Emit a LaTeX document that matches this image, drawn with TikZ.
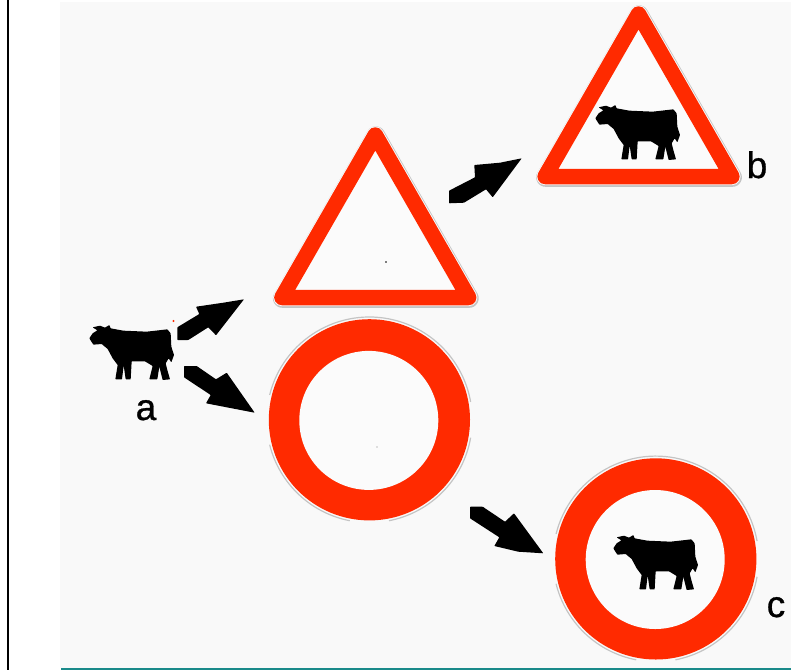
\documentclass[tikz,border=0pt]{standalone}
\usepackage{fontspec}
\setmainfont{Liberation Sans}
\newfontfamily\labelfont[FakeBold=0.8]{Liberation Sans}
\definecolor{signred}{HTML}{FF2A00}
\definecolor{panel}{HTML}{F9F9F9}
\definecolor{signface}{HTML}{FBFBFB}
\definecolor{rim}{HTML}{C4C4C4}
\definecolor{rule}{HTML}{1A8A8A}
\tikzset{
  x=1pt,y=-1pt,
  arrowblob/.style={fill=black,rounded corners=0.6pt},
  signlabel/.style={anchor=base,inner sep=0pt,font=\labelfont\fontsize{37}{37}\selectfont,text=black},
  rimline/.style={draw=rim,line width=1.2pt},
  pics/cow/.style={code={
    \fill[black,rounded corners=0.5pt,x=0.3333pt,y=-0.3333pt]
      (28,145)--(38,130)--(52,121)--(38,112)--(60,107)--(75,113)--(88,105)--(92,115)--(130,122)--(200,125)--(262,118)--(272,130)--(274,170)--(282,195)--(274,217)--(266,205)--(257,220)--(262,240)--(270,268)--(248,270)--(238,230)--(232,268)--(208,268)--(218,228)--(195,214)--(155,214)--(152,268)--(137,268)--(131,226)--(126,268)--(106,268)--(113,225)--(98,205)--(83,177)--(65,162)--(40,164)--cycle;
  }},
  pics/tri/.style={code={
    \filldraw[draw=rim,fill=rim,line width=19pt,line join=round,shift={(0.5,0.8)}]
      (0,14)--(-93.4,176.5)--(93.4,176.5)--cycle;
    \filldraw[draw=panel,fill=panel,line width=17.4pt,line join=round]
      (0,14)--(-93.4,176.5)--(93.4,176.5)--cycle;
    \filldraw[draw=signred,fill=signface,line width=15.5pt,line join=round]
      (0,14)--(-93.4,176.5)--(93.4,176.5)--cycle;
  }},
  pics/ring/.style={code={
    \draw[rimline] (10:102.8) arc[start angle=10,end angle=79,radius=102.8];
    \draw[rimline] (101:102.8) arc[start angle=101,end angle=166,radius=102.8];
    \draw[rimline] (194:102.8) arc[start angle=194,end angle=350,radius=102.8];
    \fill[signred] (0,0) circle[radius=100.6];
    \fill[signface] (-0.6,0.6) circle[radius=69.5];
  }},
}
\begin{document}
\begin{tikzpicture}
\useasboundingbox (0,0) rectangle (791,670);
\fill[white] (0,0) rectangle (791,670);
\fill[panel] (60,2) rectangle (791,668);
\fill[black] (7,0) rectangle (9,670);
\fill[rule] (61,668.3) rectangle (791,669.8);

% signs
\pic at (638.5,0) {tri};
\pic at (375.3,121) {tri};
\pic at (369.4,419.8) {ring};
\pic at (655.8,558.9) {ring};

% cows
\pic at (80,290) {cow};
\pic at (586,70) {cow};
\pic at (604,500) {cow};

% arrows
\fill[arrowblob] (177.3,327.3)--(199.3,314)--(196,306.7)--(223.3,302.7)--(244,299.3)--(216,335.3)--(208.3,327.3)--(188.3,340)--(177.3,340)--cycle;
\fill[arrowblob] (184,366)--(196.7,366)--(216,379.3)--(226.7,372.7)--(254.7,412.7)--(226.7,407.3)--(206,403.3)--(210.7,395)--(184,377.3)--cycle;
\fill[arrowblob] (449,190.7)--(475,177.3)--(474.3,165)--(500,162.7)--(521.7,158.3)--(492.7,197.3)--(486,189.3)--(464,202.7)--(449,203.3)--cycle;
\fill[arrowblob] (470,506.7)--(482.7,506.7)--(505,521.7)--(514,513.3)--(543.3,553.3)--(518.3,551.7)--(494.3,546)--(499.3,537.3)--(470,518.3)--cycle;

% specks
\fill[signred] (173.5,321) circle[radius=1.1];
\fill[black] (386,262) circle[radius=0.9];
\fill[gray] (377,447) circle[radius=0.6];

% labels
\node[signlabel] (labela) at (146,420) {a};
\node[signlabel] (labelb) at (757,178) {b};
\node[signlabel] (labelc) at (776,617) {c};
\end{tikzpicture}
\end{document}
